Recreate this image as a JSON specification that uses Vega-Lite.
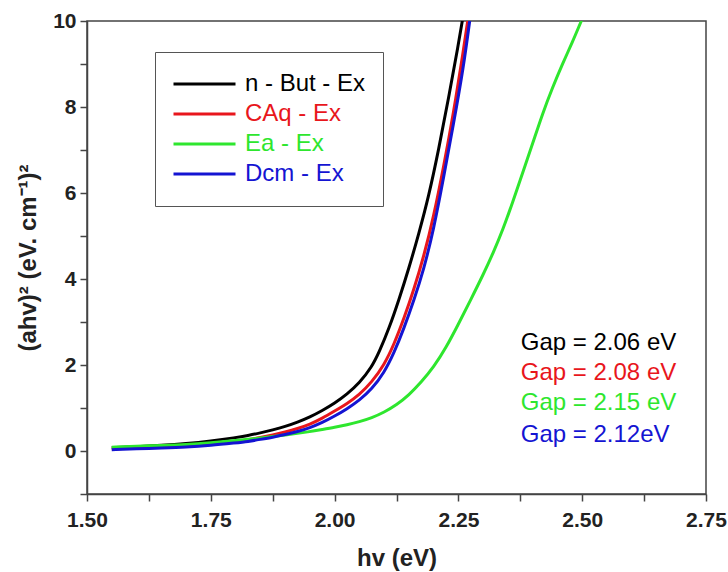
{
  "$schema": "https://vega.github.io/schema/vega-lite/v6.json",
  "width": 619,
  "height": 473,
  "autosize": {"type": "none"},
  "padding": {"left": 87, "top": 21, "right": 22, "bottom": 78},
  "background": "white",
  "config": {
    "font": "Liberation Sans",
    "view": {"stroke": "#444", "strokeWidth": 1.5},
    "axis": {
      "grid": false,
      "domainColor": "#444",
      "domainWidth": 1.5,
      "tickColor": "#444",
      "tickWidth": 1.5,
      "tickSize": 7,
      "labelFont": "Liberation Sans",
      "labelFontWeight": "bold",
      "labelFontSize": 21,
      "labelColor": "#222",
      "titleFont": "Liberation Sans",
      "titleFontWeight": "bold",
      "titleFontSize": 24,
      "titleColor": "#222"
    }
  },
  "datasets": {
    "curves": [
      {"series": "n - But - Ex", "hv": 1.55, "y": 0.08},
      {"series": "n - But - Ex", "hv": 1.60, "y": 0.10},
      {"series": "n - But - Ex", "hv": 1.65, "y": 0.13},
      {"series": "n - But - Ex", "hv": 1.70, "y": 0.17},
      {"series": "n - But - Ex", "hv": 1.75, "y": 0.23},
      {"series": "n - But - Ex", "hv": 1.80, "y": 0.31},
      {"series": "n - But - Ex", "hv": 1.825, "y": 0.36},
      {"series": "n - But - Ex", "hv": 1.85, "y": 0.42},
      {"series": "n - But - Ex", "hv": 1.875, "y": 0.49},
      {"series": "n - But - Ex", "hv": 1.90, "y": 0.57},
      {"series": "n - But - Ex", "hv": 1.925, "y": 0.67},
      {"series": "n - But - Ex", "hv": 1.95, "y": 0.79},
      {"series": "n - But - Ex", "hv": 1.975, "y": 0.94},
      {"series": "n - But - Ex", "hv": 2.00, "y": 1.11},
      {"series": "n - But - Ex", "hv": 2.025, "y": 1.32},
      {"series": "n - But - Ex", "hv": 2.05, "y": 1.58},
      {"series": "n - But - Ex", "hv": 2.075, "y": 1.95},
      {"series": "n - But - Ex", "hv": 2.09, "y": 2.30},
      {"series": "n - But - Ex", "hv": 2.11, "y": 2.85},
      {"series": "n - But - Ex", "hv": 2.13, "y": 3.52},
      {"series": "n - But - Ex", "hv": 2.15, "y": 4.25},
      {"series": "n - But - Ex", "hv": 2.17, "y": 5.05},
      {"series": "n - But - Ex", "hv": 2.19, "y": 5.92},
      {"series": "n - But - Ex", "hv": 2.21, "y": 7.00},
      {"series": "n - But - Ex", "hv": 2.23, "y": 8.20},
      {"series": "n - But - Ex", "hv": 2.25, "y": 9.45},
      {"series": "n - But - Ex", "hv": 2.26, "y": 10.15},
      {"series": "CAq - Ex", "hv": 1.55, "y": 0.05},
      {"series": "CAq - Ex", "hv": 1.60, "y": 0.07},
      {"series": "CAq - Ex", "hv": 1.65, "y": 0.09},
      {"series": "CAq - Ex", "hv": 1.70, "y": 0.12},
      {"series": "CAq - Ex", "hv": 1.75, "y": 0.16},
      {"series": "CAq - Ex", "hv": 1.80, "y": 0.22},
      {"series": "CAq - Ex", "hv": 1.825, "y": 0.26},
      {"series": "CAq - Ex", "hv": 1.85, "y": 0.31},
      {"series": "CAq - Ex", "hv": 1.875, "y": 0.37},
      {"series": "CAq - Ex", "hv": 1.90, "y": 0.44},
      {"series": "CAq - Ex", "hv": 1.925, "y": 0.52},
      {"series": "CAq - Ex", "hv": 1.95, "y": 0.62},
      {"series": "CAq - Ex", "hv": 1.975, "y": 0.76},
      {"series": "CAq - Ex", "hv": 2.00, "y": 0.93},
      {"series": "CAq - Ex", "hv": 2.025, "y": 1.10},
      {"series": "CAq - Ex", "hv": 2.05, "y": 1.31},
      {"series": "CAq - Ex", "hv": 2.075, "y": 1.60},
      {"series": "CAq - Ex", "hv": 2.10, "y": 2.00},
      {"series": "CAq - Ex", "hv": 2.12, "y": 2.48},
      {"series": "CAq - Ex", "hv": 2.14, "y": 3.08},
      {"series": "CAq - Ex", "hv": 2.16, "y": 3.75},
      {"series": "CAq - Ex", "hv": 2.18, "y": 4.52},
      {"series": "CAq - Ex", "hv": 2.20, "y": 5.45},
      {"series": "CAq - Ex", "hv": 2.22, "y": 6.60},
      {"series": "CAq - Ex", "hv": 2.24, "y": 7.85},
      {"series": "CAq - Ex", "hv": 2.26, "y": 9.30},
      {"series": "CAq - Ex", "hv": 2.27, "y": 10.1},
      {"series": "Ea - Ex", "hv": 1.55, "y": 0.09},
      {"series": "Ea - Ex", "hv": 1.60, "y": 0.11},
      {"series": "Ea - Ex", "hv": 1.65, "y": 0.13},
      {"series": "Ea - Ex", "hv": 1.70, "y": 0.15},
      {"series": "Ea - Ex", "hv": 1.75, "y": 0.19},
      {"series": "Ea - Ex", "hv": 1.80, "y": 0.24},
      {"series": "Ea - Ex", "hv": 1.85, "y": 0.30},
      {"series": "Ea - Ex", "hv": 1.90, "y": 0.37},
      {"series": "Ea - Ex", "hv": 1.95, "y": 0.45},
      {"series": "Ea - Ex", "hv": 1.975, "y": 0.50},
      {"series": "Ea - Ex", "hv": 2.00, "y": 0.55},
      {"series": "Ea - Ex", "hv": 2.025, "y": 0.61},
      {"series": "Ea - Ex", "hv": 2.05, "y": 0.68},
      {"series": "Ea - Ex", "hv": 2.075, "y": 0.77},
      {"series": "Ea - Ex", "hv": 2.10, "y": 0.90},
      {"series": "Ea - Ex", "hv": 2.125, "y": 1.07},
      {"series": "Ea - Ex", "hv": 2.15, "y": 1.30},
      {"series": "Ea - Ex", "hv": 2.175, "y": 1.60},
      {"series": "Ea - Ex", "hv": 2.20, "y": 1.95},
      {"series": "Ea - Ex", "hv": 2.225, "y": 2.40},
      {"series": "Ea - Ex", "hv": 2.25, "y": 2.95},
      {"series": "Ea - Ex", "hv": 2.275, "y": 3.52},
      {"series": "Ea - Ex", "hv": 2.30, "y": 4.10},
      {"series": "Ea - Ex", "hv": 2.32, "y": 4.60},
      {"series": "Ea - Ex", "hv": 2.34, "y": 5.15},
      {"series": "Ea - Ex", "hv": 2.36, "y": 5.80},
      {"series": "Ea - Ex", "hv": 2.38, "y": 6.48},
      {"series": "Ea - Ex", "hv": 2.40, "y": 7.15},
      {"series": "Ea - Ex", "hv": 2.42, "y": 7.85},
      {"series": "Ea - Ex", "hv": 2.44, "y": 8.45},
      {"series": "Ea - Ex", "hv": 2.46, "y": 9.00},
      {"series": "Ea - Ex", "hv": 2.48, "y": 9.50},
      {"series": "Ea - Ex", "hv": 2.50, "y": 10.05},
      {"series": "Dcm - Ex", "hv": 1.55, "y": 0.03},
      {"series": "Dcm - Ex", "hv": 1.60, "y": 0.05},
      {"series": "Dcm - Ex", "hv": 1.65, "y": 0.07},
      {"series": "Dcm - Ex", "hv": 1.70, "y": 0.09},
      {"series": "Dcm - Ex", "hv": 1.75, "y": 0.13},
      {"series": "Dcm - Ex", "hv": 1.80, "y": 0.19},
      {"series": "Dcm - Ex", "hv": 1.825, "y": 0.22},
      {"series": "Dcm - Ex", "hv": 1.85, "y": 0.27},
      {"series": "Dcm - Ex", "hv": 1.875, "y": 0.32},
      {"series": "Dcm - Ex", "hv": 1.90, "y": 0.38},
      {"series": "Dcm - Ex", "hv": 1.925, "y": 0.45},
      {"series": "Dcm - Ex", "hv": 1.95, "y": 0.54},
      {"series": "Dcm - Ex", "hv": 1.975, "y": 0.66},
      {"series": "Dcm - Ex", "hv": 2.00, "y": 0.81},
      {"series": "Dcm - Ex", "hv": 2.025, "y": 0.98},
      {"series": "Dcm - Ex", "hv": 2.05, "y": 1.18},
      {"series": "Dcm - Ex", "hv": 2.075, "y": 1.44},
      {"series": "Dcm - Ex", "hv": 2.10, "y": 1.82},
      {"series": "Dcm - Ex", "hv": 2.12, "y": 2.28},
      {"series": "Dcm - Ex", "hv": 2.14, "y": 2.85},
      {"series": "Dcm - Ex", "hv": 2.16, "y": 3.50},
      {"series": "Dcm - Ex", "hv": 2.18, "y": 4.22},
      {"series": "Dcm - Ex", "hv": 2.20, "y": 5.15},
      {"series": "Dcm - Ex", "hv": 2.22, "y": 6.35},
      {"series": "Dcm - Ex", "hv": 2.24, "y": 7.60},
      {"series": "Dcm - Ex", "hv": 2.26, "y": 8.90},
      {"series": "Dcm - Ex", "hv": 2.274, "y": 10.1}
    ],
    "gaps": [
      {"series": "n - But - Ex", "hv": 2.376, "y": 2.51, "label": "Gap = 2.06 eV"},
      {"series": "CAq - Ex", "hv": 2.376, "y": 1.81, "label": "Gap = 2.08 eV"},
      {"series": "Ea - Ex", "hv": 2.376, "y": 1.11, "label": "Gap = 2.15 eV"},
      {"series": "Dcm - Ex", "hv": 2.376, "y": 0.37, "label": "Gap = 2.12eV"}
    ]
  },
  "layer": [
    {
      "data": {"name": "curves"},
      "mark": {"type": "line", "strokeWidth": 3, "interpolate": "basis", "clip": true},
      "encoding": {
        "x": {
          "field": "hv", "type": "quantitative", "title": "hv (eV)",
          "scale": {"domain": [1.5, 2.75], "nice": false, "zero": false},
          "axis": {
            "values": [1.5, 1.625, 1.75, 1.875, 2.0, 2.125, 2.25, 2.375, 2.5, 2.625, 2.75],
            "labelExpr": "abs(datum.value*4 - round(datum.value*4)) < 0.001 ? format(datum.value, '.2f') : ''",
            "labelPadding": 8,
            "titlePadding": 16,
            "labelFlush": false
          }
        },
        "y": {
          "field": "y", "type": "quantitative", "title": "(ahv)² (eV. cm⁻¹)²",
          "scale": {"domain": [-1, 10], "nice": false, "zero": false},
          "axis": {
            "values": [-1, 0, 1, 2, 3, 4, 5, 6, 7, 8, 9, 10],
            "labelExpr": "datum.value >= 0 && datum.value % 2 == 0 ? datum.label : ''",
            "labelPadding": 4,
            "titlePadding": 12,
            "labelFlush": false
          }
        },
        "color": {
          "field": "series", "type": "nominal",
          "scale": {
            "domain": ["n - But - Ex", "CAq - Ex", "Ea - Ex", "Dcm - Ex"],
            "range": ["#000000", "#e8161c", "#2ee62e", "#1414d2"]
          },
          "legend": {
            "orient": "none",
            "legendX": 68,
            "legendY": 31,
            "title": null,
            "strokeColor": "#555",
            "fillColor": "white",
            "padding": 17,
            "labelFontSize": 24,
            "labelFont": "Liberation Sans",
            "labelOffset": 8,
            "symbolType": "stroke",
            "symbolSize": 3844,
            "symbolStrokeWidth": 3,
            "clipHeight": 30,
            "rowPadding": 0,
            "labelLimit": 300,
            "encode": {"labels": {"update": {"fill": {"scale": "color", "field": "value"}}}}
          }
        }
      }
    },
    {
      "data": {"name": "gaps"},
      "mark": {"type": "text", "align": "left", "baseline": "middle", "fontSize": 24, "font": "Liberation Sans"},
      "encoding": {
        "x": {"field": "hv", "type": "quantitative"},
        "y": {"field": "y", "type": "quantitative"},
        "text": {"field": "label"},
        "color": {"field": "series", "type": "nominal", "legend": null}
      }
    }
  ],
  "resolve": {"legend": {"color": "independent"}}
}
